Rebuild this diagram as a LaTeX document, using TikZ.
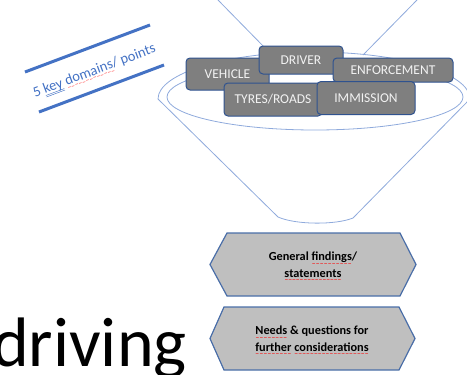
\documentclass[tikz,border=0pt]{standalone}
\usepackage{fontspec}
\setmainfont{Carlito}
\newfontfamily\djv{DejaVu Sans}
\usetikzlibrary{calc}
\newcommand\redwave[1]{\setbox0\hbox{#1}\rlap{\raisebox{-4.2pt}[0pt][0pt]{\color{red}\hbox to\wd0{\djv\fontsize{4.5}{5}\selectfont\xleaders\hbox{∼}\hfil}}}\box0\relax}
\newcommand\dline[1]{\setbox0\hbox{#1}\rlap{\raisebox{-2.2pt}[0pt][0pt]{\rule{\wd0}{0.45pt}}}\rlap{\raisebox{-3.8pt}[0pt][0pt]{\rule{\wd0}{0.45pt}}}\box0\relax}
\definecolor{funnel}{HTML}{8FAADC}
\definecolor{boxfill}{HTML}{7F7F7F}
\definecolor{boxline}{HTML}{2F528F}
\definecolor{boxtext}{HTML}{F2F2F2}
\definecolor{hexfill}{HTML}{BFBFBF}
\definecolor{hexline}{HTML}{4A6EA8}
\definecolor{accent}{HTML}{4472C4}
\tikzset{
  funnelline/.style={draw=funnel, line width=0.8pt},
  domainbox/.style={draw=boxline, fill=boxfill, line width=1pt, rounded corners=4pt,
    text=boxtext, font=\fontsize{13.5}{15}\selectfont, inner sep=0pt, align=center},
  hexshape/.style={draw=hexline, fill=hexfill, line width=1.2pt, line join=miter},
  hextext/.style={font=\bfseries\fontsize{12.3}{16.8}\selectfont, align=center, text=black, inner sep=0pt},
  accentbar/.style={draw=accent, line width=3pt}
}
\begin{document}
\begin{tikzpicture}[x=1pt, y=-1pt]
\useasboundingbox (0,0) rectangle (467,375);
% top lines
\coordinate (tl1) at (218,0);
\coordinate (tl2) at (268,51);
\coordinate (tr1) at (417,0);
\coordinate (tr2) at (363,55);
\draw[funnelline] (tl1) -- (tl2);
\draw[funnelline] (tr1) -- (tr2);
% funnel outline
\draw[funnelline] (158,99) arc[start angle=180, end angle=360, x radius=156, y radius=47]
  -- (353,218) .. controls (336,225) and (296,225) .. (278,217) -- cycle;
% inner ellipse
\draw[funnelline] (315,97) ellipse[x radius=148, y radius=33];
% domain boxes
\node[domainbox, minimum width=83pt, minimum height=32pt] (vehicle) at (227.5,74) {VEHICLE};
\node[domainbox, minimum width=84pt, minimum height=28pt] (driver) at (301,60) {DRIVER};
\node[domainbox, minimum width=120pt, minimum height=24pt] (enf) at (393,70) {ENFORCEMENT};
\node[domainbox, minimum width=98pt, minimum height=33pt] (tyres) at (273,99.5) {TYRES/ROADS};
\node[domainbox, minimum width=98pt, minimum height=33pt] (imm) at (366,98) {IMMISSION};
% hexagons
\draw[hexshape] (210,264.5) -- (227,233) -- (400,233) -- (416,264.5) -- (400,296) -- (227,296) -- cycle;
\node[hextext] (gen) at (313,265) {General \redwave{findings}/\\\redwave{statements}};
\draw[hexshape] (210,338.5) -- (224,307) -- (399,307) -- (415,338.5) -- (399,370) -- (224,370) -- cycle;
\node[hextext] (needs) at (312,339) {\redwave{Needs} \& questions for\\\redwave{further} \redwave{considerations}};
% driving
\node[anchor=base east, inner sep=0pt, font=\fontsize{70}{80}\selectfont] (driving) at (187,366) {driving};
% key domains label
\coordinate (ba1) at (25,72);
\coordinate (ba2) at (150,25);
\coordinate (bb1) at (39,112);
\coordinate (bb2) at (164,65);
\draw[accentbar] (ba1) -- (ba2);
\draw[accentbar] (bb1) -- (bb2);
\node[rotate=20.6, text=accent, font=\fontsize{14.5}{17}\selectfont, inner sep=0pt] (label) at (94.5,71) {5 \dline{key} \redwave{domains}/ points};
\end{tikzpicture}
\end{document}
